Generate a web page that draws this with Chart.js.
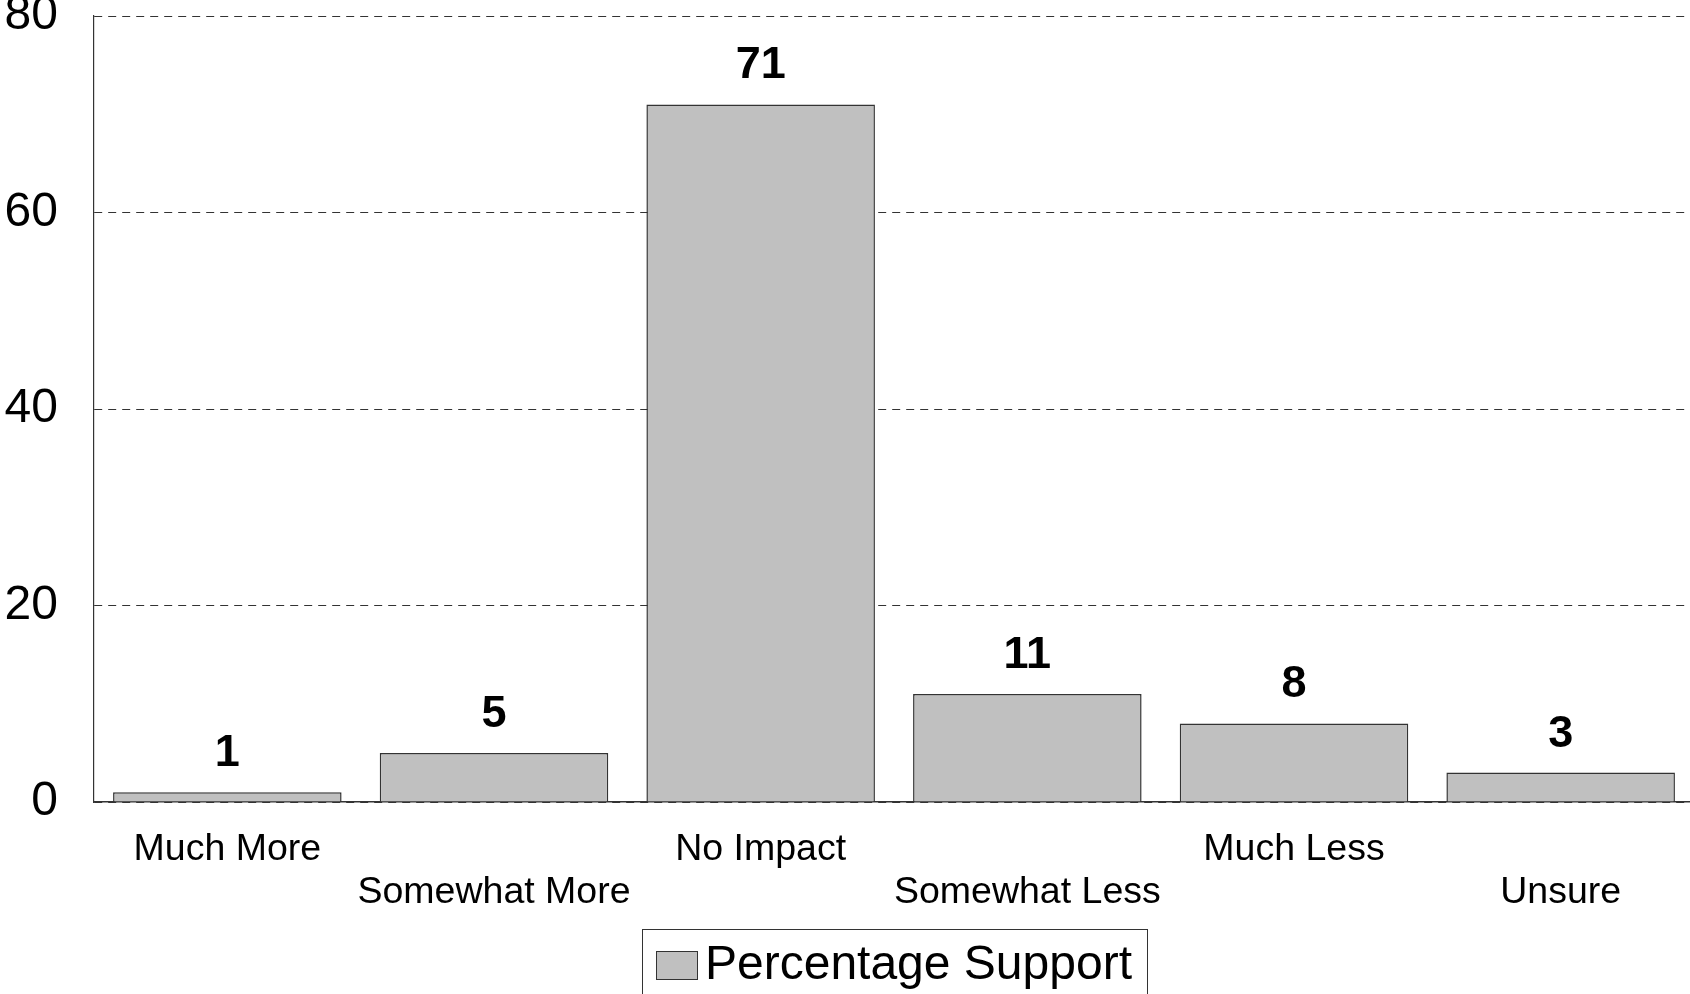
<!DOCTYPE html>
<html>
<head>
<meta charset="utf-8">
<script src="https://cdn.jsdelivr.net/npm/chart.js@4.4.1/dist/chart.umd.min.js"></script>
<style>
	html, body { margin: 0; background: #ffffff; overflow: hidden; }
	#wrap { width: 1694px; height: 994px; position: relative; }
</style>
</head>
<body>
<div id="wrap"><canvas id="supportChart"></canvas></div>
<script>
// Percentage support by response

let categories = ['Much More', 'Somewhat More', 'No Impact', 'Somewhat Less', 'Much Less', 'Unsure'];
let supportValues = [1, 5, 71, 11, 8, 3];
let seriesLabel = 'Percentage Support';
let yTicks = [0, 20, 40, 60, 80];

let fontFamily = "'Liberation Sans', Arial, sans-serif";

// bold numbers above each bar
let valueLabels = {
	id: 'valueLabels',
	afterDatasetsDraw: function(chart) {
		let ctx = chart.ctx;
		let meta = chart.getDatasetMeta(0);
		ctx.save();
		ctx.font = 'bold 45px ' + fontFamily;
		ctx.fillStyle = '#000000';
		ctx.textAlign = 'center';
		ctx.textBaseline = 'alphabetic';
		meta.data.forEach(function(bar, i) {
			ctx.fillText(String(chart.data.datasets[0].data[i]), bar.x, bar.y - 26);
		});
		ctx.restore();
	}
};

// boxed legend under the axis labels
let boxedLegend = {
	id: 'boxedLegend',
	afterDraw: function(chart) {
		let ctx = chart.ctx;
		let ds = chart.data.datasets[0];
		let area = chart.chartArea;
		ctx.save();
		ctx.font = '48px ' + fontFamily;
		let boxW = 505;
		let cx = (area.left + area.right) / 2;
		let left = Math.round(cx - boxW / 2);
		let top = 929;
		ctx.strokeStyle = '#333333';
		ctx.lineWidth = 1;
		ctx.strokeRect(left + 0.5, top + 0.5, boxW, 100);
		let swX = left + 14;
		ctx.fillStyle = ds.backgroundColor;
		ctx.fillRect(swX, 951, 41, 28);
		ctx.strokeRect(swX + 0.5, 951.5, 41, 28);
		ctx.fillStyle = '#000000';
		ctx.textAlign = 'left';
		ctx.textBaseline = 'middle';
		ctx.fillText(ds.label, swX + 49, 966);
		ctx.restore();
	}
};

let ctx_support = document.getElementById('supportChart').getContext('2d');

let supportChart = new Chart(ctx_support, {
	type: 'bar',
	data: {
		labels: categories,
		datasets: [{
			label: seriesLabel,
			data: supportValues,
			backgroundColor: '#c0c0c0',
			borderColor: '#333333',
			borderWidth: 1.5,
			barPercentage: 0.857,
			categoryPercentage: 1.0
		}]
	},
	options: {
		responsive: true,
		maintainAspectRatio: false,
		animation: false,
		layout: {
			padding: { left: 0, right: 0, top: 16, bottom: 80 }
		},
		plugins: {
			legend: { display: false },
			tooltip: { enabled: false }
		},
		scales: {
			x: {
				grid: { display: false, drawTicks: false },
				border: { display: true, color: '#333333', width: 1.5 },
				afterFit: function(axis) {
					axis.height = 112;
					axis.paddingLeft = 0;
					axis.paddingRight = 0;
				},
				ticks: {
					color: '#000000',
					padding: 26,
					maxRotation: 0,
					autoSkip: false,
					font: { family: fontFamily, size: 37.5, lineHeight: 1.15 },
					callback: function(value, index) {
						let label = categories[index];
						return index % 2 === 0 ? [label, ''] : ['', label];
					}
				}
			},
			y: {
				min: 0,
				max: 80,
				afterBuildTicks: function(axis) {
					axis.ticks = yTicks.map(function(v) { return { value: v }; });
				},
				afterFit: function(axis) {
					axis.width = 94;
					axis.paddingTop = 0;
					axis.paddingBottom = 0;
				},
				grid: { display: true, color: '#333333', lineWidth: 1, drawTicks: false },
				border: { display: true, color: '#333333', width: 1.2, dash: [8, 6] },
				ticks: {
					color: '#000000',
					padding: 36,
					font: { family: fontFamily, size: 48, lineHeight: 0.7 }
				}
			}
		}
	},
	plugins: [valueLabels, boxedLegend]
});
</script>
</body>
</html>
